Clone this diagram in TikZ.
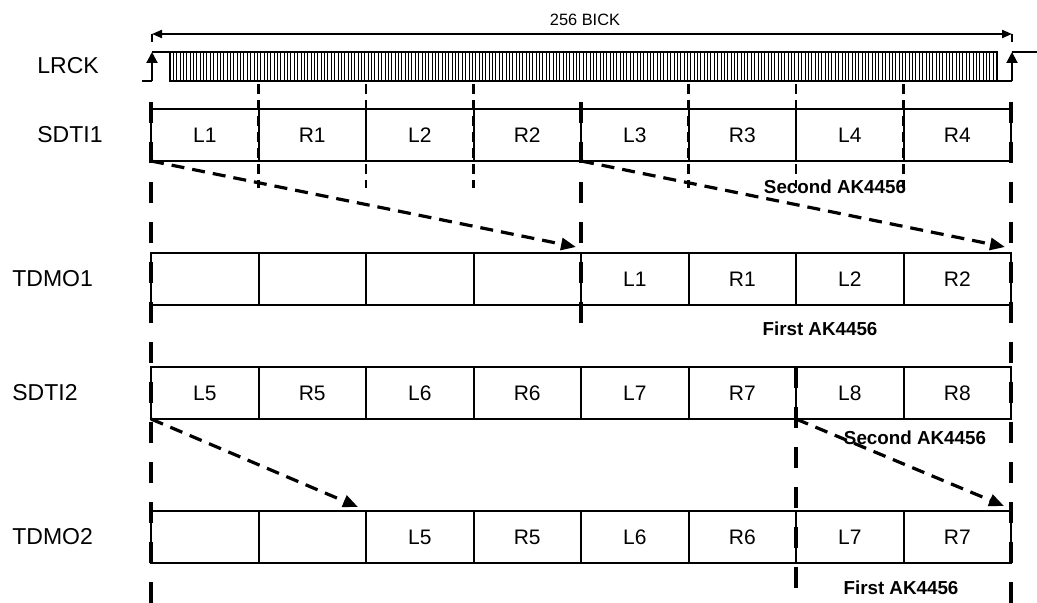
\documentclass[tikz,border=0pt]{standalone}
\usepackage{fontspec}
\setmainfont{Liberation Sans}
\usetikzlibrary{arrows.meta}
\tikzset{
	slot/.style={draw, line width=1pt, minimum width=53.75pt, minimum height=26pt, inner sep=0pt, outer sep=0pt, font=\fontsize{10.5}{12}\selectfont},
	sig/.style={anchor=west, inner sep=0pt, font=\fontsize{11.5}{13}\selectfont},
	chip/.style={inner sep=0pt, font=\fontsize{9.4}{11}\selectfont\bfseries},
	guide/.style={line width=2pt, dash pattern=on 10.5pt off 9.5pt},
	tickline/.style={line width=1.1pt, dash pattern=on 5pt off 3pt},
	mapto/.style={line width=1.6pt, dash pattern=on 6.5pt off 4pt, -{Triangle[length=7.5pt,width=6pt]}},
	clkedge/.style={line width=1pt, -{Triangle[length=5.5pt,width=5.5pt]}}
}
\begin{document}
\begin{tikzpicture}[x=0.5pt,y=-0.5pt]
	\useasboundingbox (0,0) rectangle (1037,603);
	% 256 BICK
	\coordinate (bl) at (152,34);
	\coordinate (br) at (1012,34);
	\draw[line width=1pt, {Triangle[length=5pt,width=4pt]}-{Triangle[length=5pt,width=4pt]}] (bl) -- (br);
	\draw[line width=0.9pt] (bl) -- ++(0,8);
	\draw[line width=0.9pt] (br) -- ++(0,8);
	\node[inner sep=0pt, font=\fontsize{8.2}{10}\selectfont] (bick) at (585,20) {256 BICK};
	% LRCK
	\draw[line width=0.8pt] (142,81) -- (152,81);
	\draw[clkedge] (152,81) -- (152,52);
	\draw[line width=0.8pt] (152,52) -- (170,52);
	\draw[line width=0.8pt] (170,52) rectangle (997,81);
	\foreach \k in {1,...,245}
		\draw[line width=0.5pt] ({170+3.36*\k},52) -- ({170+3.36*\k},81);
	\draw[line width=0.8pt] (997,81) -- (1012,81);
	\draw[clkedge] (1012,81) -- (1012,52);
	\draw[line width=0.8pt] (1012,52) -- (1037,52);
	% rows
	\node[sig] (lrck) at (37,66) {LRCK};
	\node[sig] (sdti1) at (37,135) {SDTI1};
	\node[sig] (tdmo1) at (12,279) {TDMO1};
	\node[sig] (sdti2) at (12,393) {SDTI2};
	\node[sig] (tdmo2) at (12,537) {TDMO2};
	\foreach \t [count=\i] in {L1,R1,L2,R2,L3,R3,L4,R4}
		\node[slot] (a\i) at (97.25+107.5*\i,135) {\t};
	\foreach \t [count=\i] in {{},{},{},{},L1,R1,L2,R2}
		\node[slot] (b\i) at (97.25+107.5*\i,279) {\t};
	\foreach \t [count=\i] in {L5,R5,L6,R6,L7,R7,L8,R8}
		\node[slot] (c\i) at (97.25+107.5*\i,393) {\t};
	\foreach \t [count=\i] in {{},{},L5,R5,L6,R6,L7,R7}
		\node[slot] (d\i) at (97.25+107.5*\i,537) {\t};
	% slot ticks
	\foreach \i in {1,2,3,5,6,7}
		\draw[tickline] (a\i.north east |- 0,84) -- (a\i.north east |- 0,188);
	% frame guides
	\draw[guide] (a1.north west |- 0,102) -- (a1.north west |- 0,603);
	\draw[guide] (a5.north west |- 0,102) -- (a5.north west |- 0,323);
	\draw[guide] (a8.north east |- 0,102) -- (a8.north east |- 0,603);
	\draw[guide] (c7.north west |- 0,367) -- (c7.north west |- 0,588);
	% data moves
	\draw[mapto] (a1.south west) -- ([shift={(-5,-6)}]b5.north west);
	\draw[mapto] (a5.south west) -- ([shift={(-6,-6)}]b8.north east);
	\draw[mapto] (c1.south west) -- ([shift={(-8,-4)}]d3.north west);
	\draw[mapto] (c6.south east) -- ([shift={(-7,-5)}]d8.north east);
	\node[chip] (sec1) at (835,187) {Second AK4456};
	\node[chip] (fir1) at (820,329) {First AK4456};
	\node[chip] (sec2) at (915,438) {Second AK4456};
	\node[chip] (fir2) at (901,588) {First AK4456};
\end{tikzpicture}
\end{document}
